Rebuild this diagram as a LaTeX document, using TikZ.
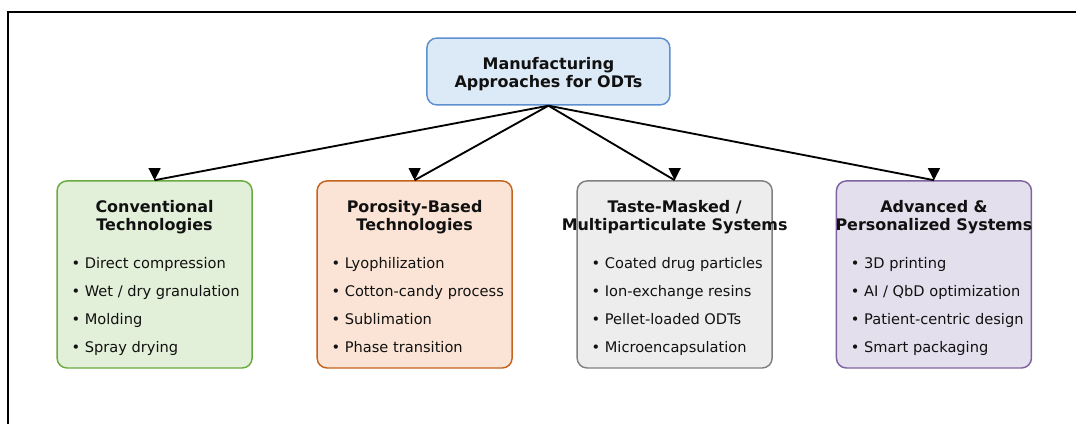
\documentclass[tikz,border=0pt]{standalone}
\usepackage{fontspec}
\setmainfont{DejaVu Sans}
\usepackage{tikz}
\usetikzlibrary{positioning,calc}
\definecolor{odtBlueFill}{HTML}{DCE9F6}
\definecolor{odtBlue}{HTML}{5E8FCF}
\definecolor{odtGreenFill}{HTML}{E2EFD9}
\definecolor{odtGreen}{HTML}{6AAB3F}
\definecolor{odtOrangeFill}{HTML}{FBE4D5}
\definecolor{odtOrange}{HTML}{C5631D}
\definecolor{odtGreyFill}{HTML}{EDEDED}
\definecolor{odtGrey}{HTML}{808080}
\definecolor{odtPurpleFill}{HTML}{E3DFEC}
\definecolor{odtPurple}{HTML}{7F63A0}
\definecolor{odtInk}{HTML}{111111}

\begin{document}
\begin{tikzpicture}[
    x=1cm, y=1cm,
    box/.style={rectangle, rounded corners=7.5pt, line width=1.1pt, inner sep=0pt},
    rootbox/.style={box, draw=odtBlue, fill=odtBlueFill, minimum width=6.43cm, minimum height=1.77cm},
    roottext/.style={align=center, inner sep=0pt, text=odtInk, font=\bfseries\fontsize{12}{14}\selectfont},
    techbox/.style={box, minimum width=5.16cm, minimum height=4.95cm},
    boxtitle/.style={align=center, inner sep=0pt, text=odtInk, font=\bfseries\fontsize{12}{12.75}\selectfont},
    itemlist/.style={align=left, inner sep=0pt, anchor=west, text=odtInk, font=\fontsize{11}{21}\selectfont},
    link/.style={draw=black, line width=1.4pt},
    tipdown/.pic={\fill[black] (0,0) -- (-4.6pt,9pt) -- (4.6pt,9pt) -- cycle;},
  ]
  \useasboundingbox (0,0) rectangle (28.469,11.192);
  % outer frame, only its top and left side are on the page
  \draw[line width=1.5pt] (0.215,-1) rectangle (29.5,10.882);

  \node[rootbox] (root) at (14.51,9.30) {};
  \node[roottext] (roottitle) at ([yshift=-2.5pt]root.center) {\strut Manufacturing\\Approaches for ODTs\strut};

  \node[techbox, draw=odtGreen, fill=odtGreenFill] (conv) at (4.09,3.93) {};
  \node[techbox, draw=odtOrange, fill=odtOrangeFill] (poro) at (10.97,3.93) {};
  \node[techbox, draw=odtGrey, fill=odtGreyFill] (taste) at (17.85,3.93) {};
  \node[techbox, draw=odtPurple, fill=odtPurpleFill] (adv) at (24.71,3.93) {};

  \node[boxtitle] (convtitle) at ([yshift=-28.5pt]conv.north) {\strut Conventional\\Technologies\strut};
  \node[boxtitle] (porotitle) at ([yshift=-28.5pt]poro.north) {\strut Porosity-Based\\Technologies\strut};
  \node[boxtitle] (tastetitle) at ([yshift=-28.5pt]taste.north) {\strut Taste-Masked /\\Multiparticulate Systems\strut};
  \node[boxtitle] (advtitle) at ([yshift=-28.5pt]adv.north) {\strut Advanced \&\\Personalized Systems\strut};

  \node[itemlist] (convlist) at ([xshift=11.25pt, yshift=-94pt]conv.north west)
    {\strut• Direct compression\\• Wet / dry granulation\\• Molding\\• Spray drying\strut};
  \node[itemlist] (porolist) at ([xshift=11.25pt, yshift=-94pt]poro.north west)
    {\strut• Lyophilization\\• Cotton-candy process\\• Sublimation\\• Phase transition\strut};
  \node[itemlist] (tastelist) at ([xshift=11.25pt, yshift=-94pt]taste.north west)
    {\strut• Coated drug particles\\• Ion-exchange resins\\• Pellet-loaded ODTs\\• Microencapsulation\strut};
  \node[itemlist] (advlist) at ([xshift=11.25pt, yshift=-94pt]adv.north west)
    {\strut• 3D printing\\• AI / QbD optimization\\• Patient-centric design\\• Smart packaging\strut};

  \draw[link] (root.south) -- (conv.north) pic {tipdown};
  \draw[link] (root.south) -- (poro.north) pic {tipdown};
  \draw[link] (root.south) -- (taste.north) pic {tipdown};
  \draw[link] (root.south) -- (adv.north) pic {tipdown};
\end{tikzpicture}
\end{document}
